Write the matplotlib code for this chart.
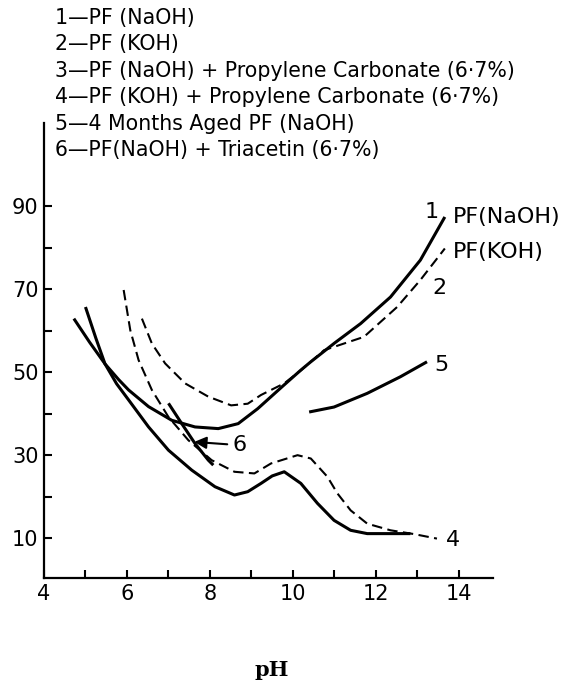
import matplotlib
matplotlib.use('Agg')
import matplotlib.pyplot as plt

# curve values (pH, y)
ph_1 = [4.72, 5.1, 5.47, 5.8, 6.04, 6.52, 7.08, 7.64, 8.2, 8.68, 9.15, 9.75, 10.19, 10.43, 11.0, 11.63, 12.35, 13.07, 13.66]
y_1 = [62.9, 57.2, 52.0, 48.2, 45.7, 41.7, 38.4, 36.8, 36.4, 37.6, 41.2, 46.6, 50.5, 52.5, 57.0, 61.7, 68.1, 77.0, 87.4]

ph_2 = [6.36, 6.6, 6.92, 7.40, 7.96, 8.51, 8.91, 9.23, 9.79, 10.2, 10.75, 11.71, 12.51, 13.07, 13.66]
y_2 = [62.9, 56.9, 52.1, 47.3, 44.1, 42.0, 42.4, 44.5, 47.3, 50.5, 55.3, 58.5, 65.7, 72.2, 79.8]

ph_3 = [5.0, 5.25, 5.47, 5.75, 6.04, 6.52, 7.0, 7.56, 8.12, 8.59, 8.91, 9.23, 9.5, 9.79, 10.19, 10.59, 10.99, 11.39, 11.79, 12.83]
y_3 = [65.7, 58.2, 52.0, 47.2, 43.3, 36.8, 31.2, 26.4, 22.4, 20.4, 21.2, 23.2, 25.0, 26.0, 23.2, 18.4, 14.3, 11.9, 11.1, 11.1]

ph_4 = [5.92, 6.08, 6.28, 6.6, 7.0, 7.48, 8.04, 8.59, 9.07, 9.47, 10.11, 10.43, 10.83, 11.07, 11.39, 11.79, 12.35, 12.91, 13.47]
y_4 = [69.8, 60.1, 52.9, 45.7, 39.2, 33.6, 28.8, 26.0, 25.6, 28.0, 30.0, 29.2, 24.8, 20.8, 16.7, 13.5, 11.9, 11.0, 9.9]

ph_5 = [10.39, 10.99, 11.79, 12.59, 13.23]
y_5 = [40.4, 41.6, 44.9, 48.9, 52.5]

ph_6 = [7.0, 7.32, 7.64, 7.96, 8.08]
y_6 = [42.5, 37.6, 32.8, 28.8, 27.6]

legend_lines = [
    '1\u2014PF (NaOH)',
    '2\u2014PF (KOH)',
    '3\u2014PF (NaOH) + Propylene Carbonate (6\u00b77%)',
    '4\u2014PF (KOH) + Propylene Carbonate (6\u00b77%)',
    '5\u20144 Months Aged PF (NaOH)',
    '6\u2014PF(NaOH) + Triacetin (6\u00b77%)',
]

x_major = [4, 6, 8, 10, 12, 14]
x_minor = [5, 7, 9, 11, 13]
y_major = [10, 30, 50, 70, 90]
y_minor = [20, 40, 60, 80]

plt.rcParams['font.family'] = 'DejaVu Sans'

fig = plt.figure(figsize=(5.81, 6.83), dpi=100)
ax = fig.add_axes([0.0757, 0.1537, 0.7728, 0.666])

solid = dict(color='black', lw=2.2, solid_capstyle='butt', solid_joinstyle='round')
dashed = dict(color='black', lw=1.5, linestyle=(0, (5, 2.6)))

ax.plot(ph_1, y_1, **solid)
ax.plot(ph_2, y_2, **dashed)
ax.plot(ph_3, y_3, **solid)
ax.plot(ph_4, y_4, **dashed)
ax.plot(ph_5, y_5, **solid)
ax.plot(ph_6, y_6, **solid)

# curve labels
lab = dict(fontsize=16, color='black', va='center')
ax.text(13.35, 88.5, '1', ha='center', **lab)
ax.text(13.86, 87.3, 'PF(NaOH)', ha='left', **lab)
ax.text(13.86, 78.9, 'PF(KOH)', ha='left', **lab)
ax.text(13.54, 70.2, '2', ha='center', **lab)
ax.text(13.58, 51.7, '5', ha='center', **lab)
ax.text(13.86, 9.5, '4', ha='center', **lab)
ax.annotate('6', xy=(7.62, 33.2), xytext=(8.72, 32.4), ha='center', va='center', fontsize=16,
            arrowprops=dict(arrowstyle='-|>', color='black', lw=1.5, mutation_scale=18, shrinkB=0))

# axes look
ax.set_xlim(4, 14.82)
ax.set_ylim(0.4, 110)
ax.spines['top'].set_visible(False)
ax.spines['right'].set_visible(False)
ax.spines['left'].set_linewidth(1.6)
ax.spines['bottom'].set_linewidth(1.6)
ax.set_xticks(x_major)
ax.set_xticks(x_minor, minor=True)
ax.set_yticks(y_major)
ax.set_yticks(y_minor, minor=True)
ax.tick_params(which='both', direction='in', width=1.5, length=6, labelsize=15, pad=4)

# legend block above the plot
for i, line in enumerate(legend_lines):
    fig.text(0.0947, 1 - (18 + 26.4 * i) / 683, line, fontsize=14.8, va='center', ha='left')

fig.text(272 / 581, 1 - 670 / 683, 'pH', fontsize=15, fontweight='bold', family='DejaVu Serif',
         ha='center', va='center')

fig.savefig('out.png', dpi=100)
